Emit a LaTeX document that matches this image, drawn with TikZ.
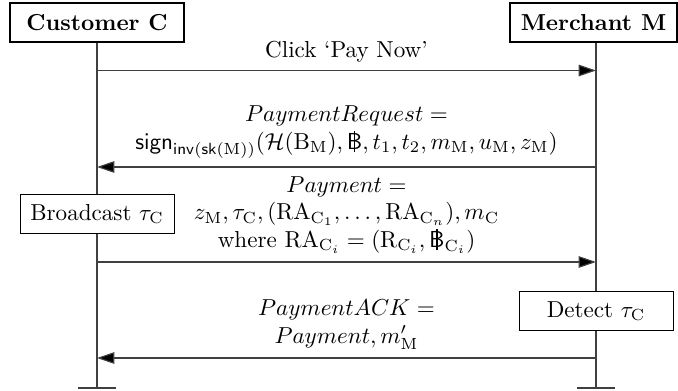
\documentclass[tikz,border=0pt]{standalone}
\usepackage{amsmath}
\usetikzlibrary{arrows.meta}
\newcommand{\baht}{\text{\ooalign{\textsf{B}\cr\hidewidth\rule[-.12em]{.06em}{.92em}\hidewidth\cr}}}
\tikzset{>={Triangle[length=7.5pt,width=5pt]}}

\begin{document}
\begin{tikzpicture}[
     x=0.433pt,y=-0.433pt,          % one unit = one pixel of the sketch
     line/.style={draw=black!75,line width=0.5pt},
     inst/.style={draw,line width=0.8pt,font=\bfseries,minimum height=16.9pt},
     act/.style={draw,thin,fill=white,minimum width=66.7pt,minimum height=16.5pt},
     msg/.style={line,->,>={Triangle[length=7.5pt,width=5pt,fill=black]}},
     lbl/.style={align=center}
  ]
  \def\xc{97}   % customer lifeline
  \def\xm{596}  % merchant lifeline
  \def\bar{8.2pt} % half width of the end bar
  \useasboundingbox (0,0) rectangle (678,391);
  % instances
  \node[inst,minimum width=75.3pt] (cust) at (\xc,22.5) {Customer C};
  \node[inst,minimum width=72.3pt] (merch) at (593.5,22.5) {Merchant M};
  % lifelines
  \coordinate (cend) at (\xc,388);
  \coordinate (mend) at (\xm,388);
  \draw[line] (cust.south) -- (cend);
  \draw[line] (merch.south -| mend) -- (mend);
  \draw[line] ([xshift=-\bar]cend) -- ([xshift=\bar]cend);
  \draw[line] ([xshift=-\bar]mend) -- ([xshift=\bar]mend);
  % actions
  \node[act] (bcast) at (\xc,214) {Broadcast $\tau_{\mathrm{C}}$};
  \node[act] (detect) at (\xm,311) {Detect $\tau_{\mathrm{C}}$};
  % messages
  \coordinate (c1) at (\xc,70.5);  \coordinate (m1) at (\xm,70.5);
  \coordinate (c2) at (\xc,167);   \coordinate (m2) at (\xm,167);
  \coordinate (c3) at (\xc,262);   \coordinate (m3) at (\xm,262);
  \coordinate (c4) at (\xc,358);   \coordinate (m4) at (\xm,358);
  \draw[msg] (c1) -- node[above] {Click `Pay Now'} (m1);
  \draw[msg] (m2) -- node[above,lbl] {$PaymentRequest =$\\
    $\mathsf{sign}_{\mathsf{inv}(\mathsf{sk}(\mathrm{M}))}(\mathcal{H}(\mathrm{B}_{\mathrm{M}}), \baht, t_1, t_2, m_{\mathrm{M}}, u_{\mathrm{M}}, z_{\mathrm{M}})$} (c2);
  \draw[msg] (c3) -- node[above,lbl] {$Payment =$\\
    $z_{\mathrm{M}}, \tau_{\mathrm{C}}, (\mathrm{RA}_{\mathrm{C}_1}, \dots, \mathrm{RA}_{\mathrm{C}_n}), m_{\mathrm{C}}$\\
    where $\mathrm{RA}_{\mathrm{C}_i} = (\mathrm{R}_{\mathrm{C}_i}, \baht_{\mathrm{C}_i})$} (m3);
  \draw[msg] (m4) -- node[above,lbl] {$PaymentACK =$\\ $Payment, m'_{\mathrm{M}}$} (c4);
\end{tikzpicture}
\end{document}
